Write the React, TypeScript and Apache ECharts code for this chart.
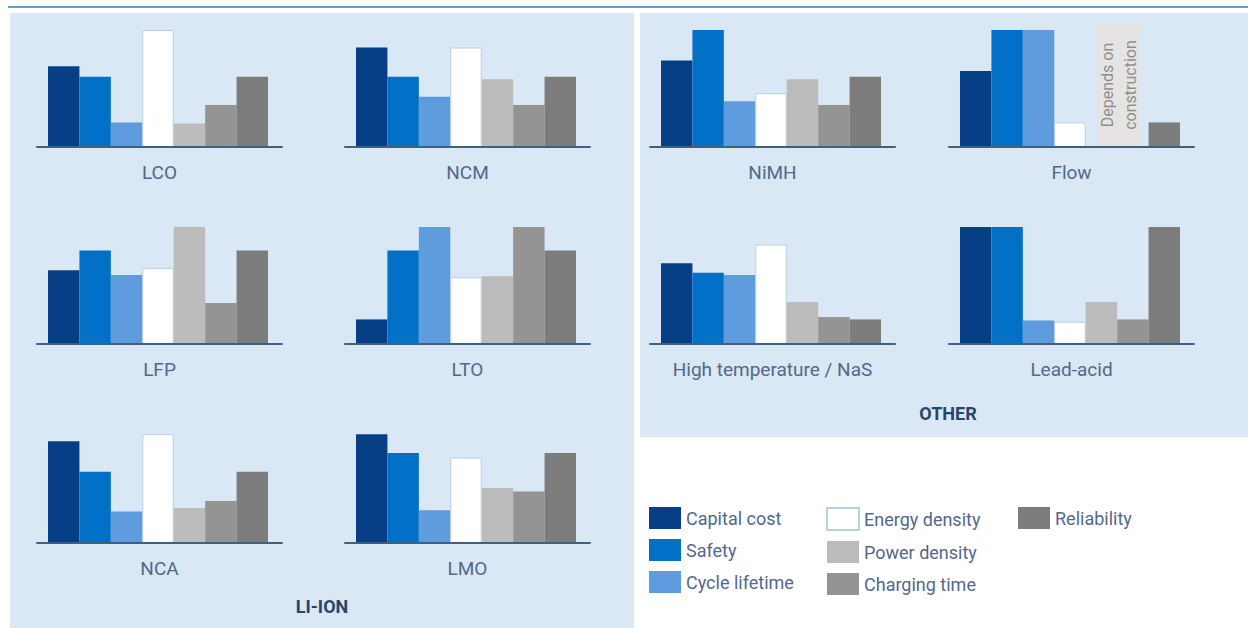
import React, { useEffect, useRef } from "react";
import * as echarts from "echarts";

const attributes = [
  "Capital cost",
  "Safety",
  "Cycle lifetime",
  "Energy density",
  "Power density",
  "Charging time",
  "Reliability",
];
const attributeColors = ["#063f86", "#0170c6", "#5e9cdd", "#ffffff", "#bdbcbd", "#959495", "#7d7c7d"];

const technologies = ["LCO", "NCM", "LFP", "LTO", "NCA", "LMO", "NiMH", "Flow", "High temperature / NaS", "Lead-acid"];

const lco = [6.9, 6.0, 2.1, 10, 2.0, 3.6, 6.0];
const ncm = [8.5, 6.0, 4.3, 8.5, 5.8, 3.6, 6.0];
const lfp = [6.3, 8.0, 5.9, 6.5, 10, 3.5, 8.0];
const lto = [2.1, 8.0, 10, 5.7, 5.8, 10, 8.0];
const nca = [8.7, 6.1, 2.7, 9.3, 3.0, 3.6, 6.1];
const lmo = [9.3, 7.7, 2.8, 7.3, 4.7, 4.4, 7.7];
const nimh = [7.4, 10, 3.9, 4.6, 5.8, 3.6, 6.0];
const flow = [6.5, 10, 10, 2.1, null, null, 2.1];
const nas = [6.9, 6.1, 5.9, 8.5, 3.6, 2.3, 2.1];
const leadAcid = [10, 10, 2.0, 1.9, 3.6, 2.1, 10];

const techValues = [lco, ncm, lfp, lto, nca, lmo, nimh, flow, nas, leadAcid];

const groupTitles = ["LI-ION", "OTHER"];
const flowNote = "Depends on\nconstruction";

// layout (column / row of each technology panel)
const panelCol = [0, 1, 0, 1, 0, 1, 2, 3, 2, 3];
const panelRow = [0, 0, 1, 1, 2, 2, 0, 0, 1, 1];
const colX = [48, 356, 661, 960];
const rowBase = [147, 344, 543];
const plotH = 117;
const plotW = 220;

const FONT = "Roboto, 'Liberation Sans', Arial, sans-serif";
const LABEL = "#52698a";

export default function App() {
  const ref = useRef<HTMLDivElement>(null);

  useEffect(() => {
    if (!ref.current) return;
    const chart = echarts.init(ref.current, undefined, { renderer: "svg" });

    const grid: any[] = [];
    const xAxis: any[] = [];
    const yAxis: any[] = [];
    const series: any[] = [];

    technologies.forEach((tech, i) => {
      const left = colX[panelCol[i]];
      const top = rowBase[panelRow[i]] - plotH;
      // bar grid
      grid.push({ left, top, width: plotW, height: plotH });
      xAxis.push({ type: "category", gridIndex: 2 * i, data: attributes, show: false });
      yAxis.push({ type: "value", gridIndex: 2 * i, min: 0, max: 10, show: false });
      // baseline axis grid (slightly wider)
      grid.push({ left: left - 11, top, width: plotW + 25, height: plotH });
      xAxis.push({
        type: "value",
        gridIndex: 2 * i + 1,
        min: 0,
        max: 1,
        z: 5,
        axisLine: { show: true, lineStyle: { color: "#40607f", width: 2 } },
        axisTick: { show: false },
        axisLabel: { show: false },
        splitLine: { show: false },
        name: tech,
        nameLocation: "middle",
        nameGap: 16,
        nameTextStyle: { color: LABEL, fontSize: 19, fontFamily: FONT, verticalAlign: "top" },
      });
      yAxis.push({ type: "value", gridIndex: 2 * i + 1, show: false });

      attributes.forEach((attr, a) => {
        const v = techValues[i][a];
        series.push({
          name: attr,
          type: "bar",
          xAxisIndex: 2 * i,
          yAxisIndex: 2 * i,
          stack: "p" + i,
          barCategoryGap: 0,
          itemStyle: {
            color: attributeColors[a],
            borderColor: a === 3 ? "#b9cfe4" : attributeColors[a],
            borderWidth: a === 3 ? 1 : 0,
          },
          data: attributes.map((_, k) => (k === a && v !== null ? v : "-")),
        });
      });
    });

    const legendBase = {
      orient: "vertical",
      top: 507,
      padding: 0,
      itemWidth: 32,
      itemHeight: 22,
      itemGap: 10,
      icon: "rect",
      selectedMode: false,
      textStyle: { color: LABEL, fontSize: 18, fontFamily: FONT },
    };

    chart.setOption({
      animation: false,
      backgroundColor: "#ffffff",
      grid,
      xAxis,
      yAxis,
      series,
      legend: [
        { ...legendBase, left: 649, data: attributes.slice(0, 3) },
        { ...legendBase, left: 826, data: attributes.slice(3, 6) },
        { ...legendBase, left: 1018, data: attributes.slice(6) },
      ],
      graphic: [
        { type: "rect", z: -10, shape: { x: 10, y: 13, width: 624, height: 615 }, style: { fill: "#dae7f4" } },
        { type: "rect", z: -10, shape: { x: 640, y: 13, width: 608, height: 424 }, style: { fill: "#dae7f4" } },
        { type: "line", z: -10, shape: { x1: 8, y1: 7, x2: 1248, y2: 7 }, style: { stroke: "#5c9bd3", lineWidth: 2 } },
        { type: "rect", z: -5, shape: { x: 1097, y: 23, width: 43, height: 124 }, style: { fill: "#e6e4e2" } },
        {
          type: "text",
          z: -4,
          x: 1119,
          y: 85,
          rotation: Math.PI / 2,
          style: {
            text: flowNote,
            fill: "#8f8f8f",
            font: `16px ${FONT}`,
            align: "center",
            verticalAlign: "middle",
            lineHeight: 23,
          },
        },
        {
          type: "text",
          x: 322,
          y: 606,
          style: { text: groupTitles[0], fill: "#27466c", font: `bold 18px ${FONT}`, align: "center", verticalAlign: "middle" },
        },
        {
          type: "text",
          x: 948,
          y: 413,
          style: { text: groupTitles[1], fill: "#27466c", font: `bold 18px ${FONT}`, align: "center", verticalAlign: "middle" },
        },
      ],
    });

    return () => chart.dispose();
  }, []);

  return (
    <div
      ref={ref}
      style={{ position: "fixed", left: 0, top: 0, width: 1248, height: 628, background: "#fff" }}
    />
  );
}
